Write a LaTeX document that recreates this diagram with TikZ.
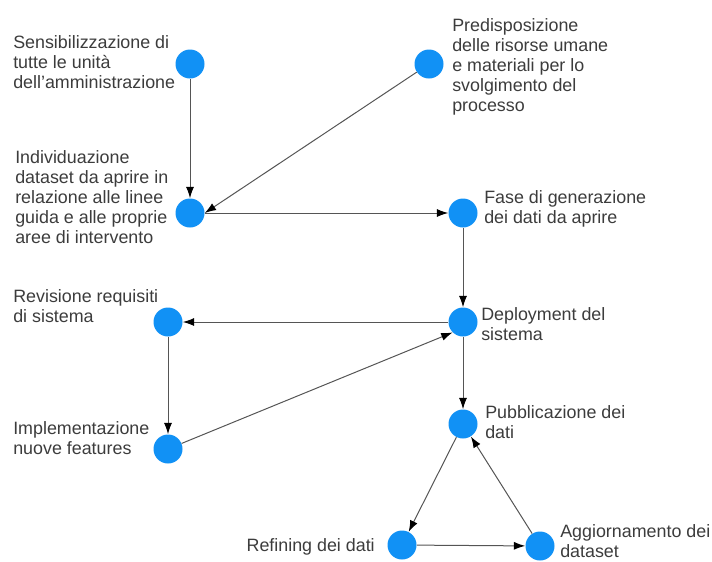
\documentclass[tikz,border=0pt]{standalone}
\usepackage{fontspec}
\setmainfont{Liberation Sans}
\usetikzlibrary{arrows.meta}
\definecolor{dotblue}{RGB}{17,145,245}
\definecolor{txtgray}{RGB}{60,60,60}
\definecolor{linegray}{RGB}{85,85,85}

\begin{document}
\begin{tikzpicture}[x=0.75pt,y=-0.75pt,
  dot/.style={circle,fill=dotblue,minimum size=21.75pt,inner sep=0pt},
  lbl/.style={align=left,inner sep=0pt,text=txtgray,font=\fontsize{13.4}{15}\selectfont},
  flow/.style={draw=linegray,line width=0.75pt,-{Latex[length=8.5pt,width=6pt,color=black]}}]
\useasboundingbox (0,0) rectangle (712,561);

% Steps of the process
\node[dot] (sens) at (190,64) {};
\node[dot] (pred) at (429,64) {};
\node[dot] (indiv) at (190,213) {};
\node[dot] (fase) at (463,213) {};
\node[dot] (deploy) at (463,322) {};
\node[dot] (revis) at (168,322) {};
\node[dot] (impl) at (168,449) {};
\node[dot] (pubbl) at (463,424) {};
\node[dot] (refin) at (402,545) {};
\node[dot] (aggio) at (540,546) {};

% Labels for each step (base = baseline of the last line)
\node[lbl, anchor=base west] (senslbl) at (13,88) {Sensibilizzazione di\\tutte le unità\\dell'amministrazione};
\node[lbl, anchor=base west] (predlbl) at (452,111) {Predisposizione\\delle risorse umane\\e materiali per lo\\svolgimento del\\processo};
\node[lbl, anchor=base west] (indivlbl) at (15,243) {Individuazione\\dataset da aprire in\\relazione alle linee\\guida e alle proprie\\aree di intervento};
\node[lbl, anchor=base west] (faselbl) at (484,223) {Fase di generazione\\dei dati da aprire};
\node[lbl, anchor=base west] (deploylbl) at (481,340) {Deployment del\\sistema};
\node[lbl, anchor=base west] (revislbl) at (13,322) {Revisione requisiti\\di sistema};
\node[lbl, anchor=base west] (impllbl) at (13,454) {Implementazione\\nuove features};
\node[lbl, anchor=base west] (pubbllbl) at (485,438) {Pubblicazione dei\\dati};
\node[lbl, anchor=base east] (refinlbl) at (375,551) {Refining dei dati};
\node[lbl, anchor=base west] (aggiolbl) at (560,557) {Aggiornamento dei\\dataset};

% Connectors
\draw[flow] (sens) -- (indiv);
\draw[flow] (pred) -- (indiv.east);
\draw[flow] (indiv) -- (fase);
\draw[flow] (fase) -- (deploy);
\draw[flow] (deploy) -- (revis);
\draw[flow] (revis) -- (impl);
\draw[flow] (impl) -- (deploy.south west);
\draw[flow] (deploy) -- (pubbl);
\draw[flow] (pubbl) -- (refin);
\draw[flow] (refin) -- (aggio);
\draw[flow] (aggio) -- (pubbl);

\end{tikzpicture}
\end{document}
